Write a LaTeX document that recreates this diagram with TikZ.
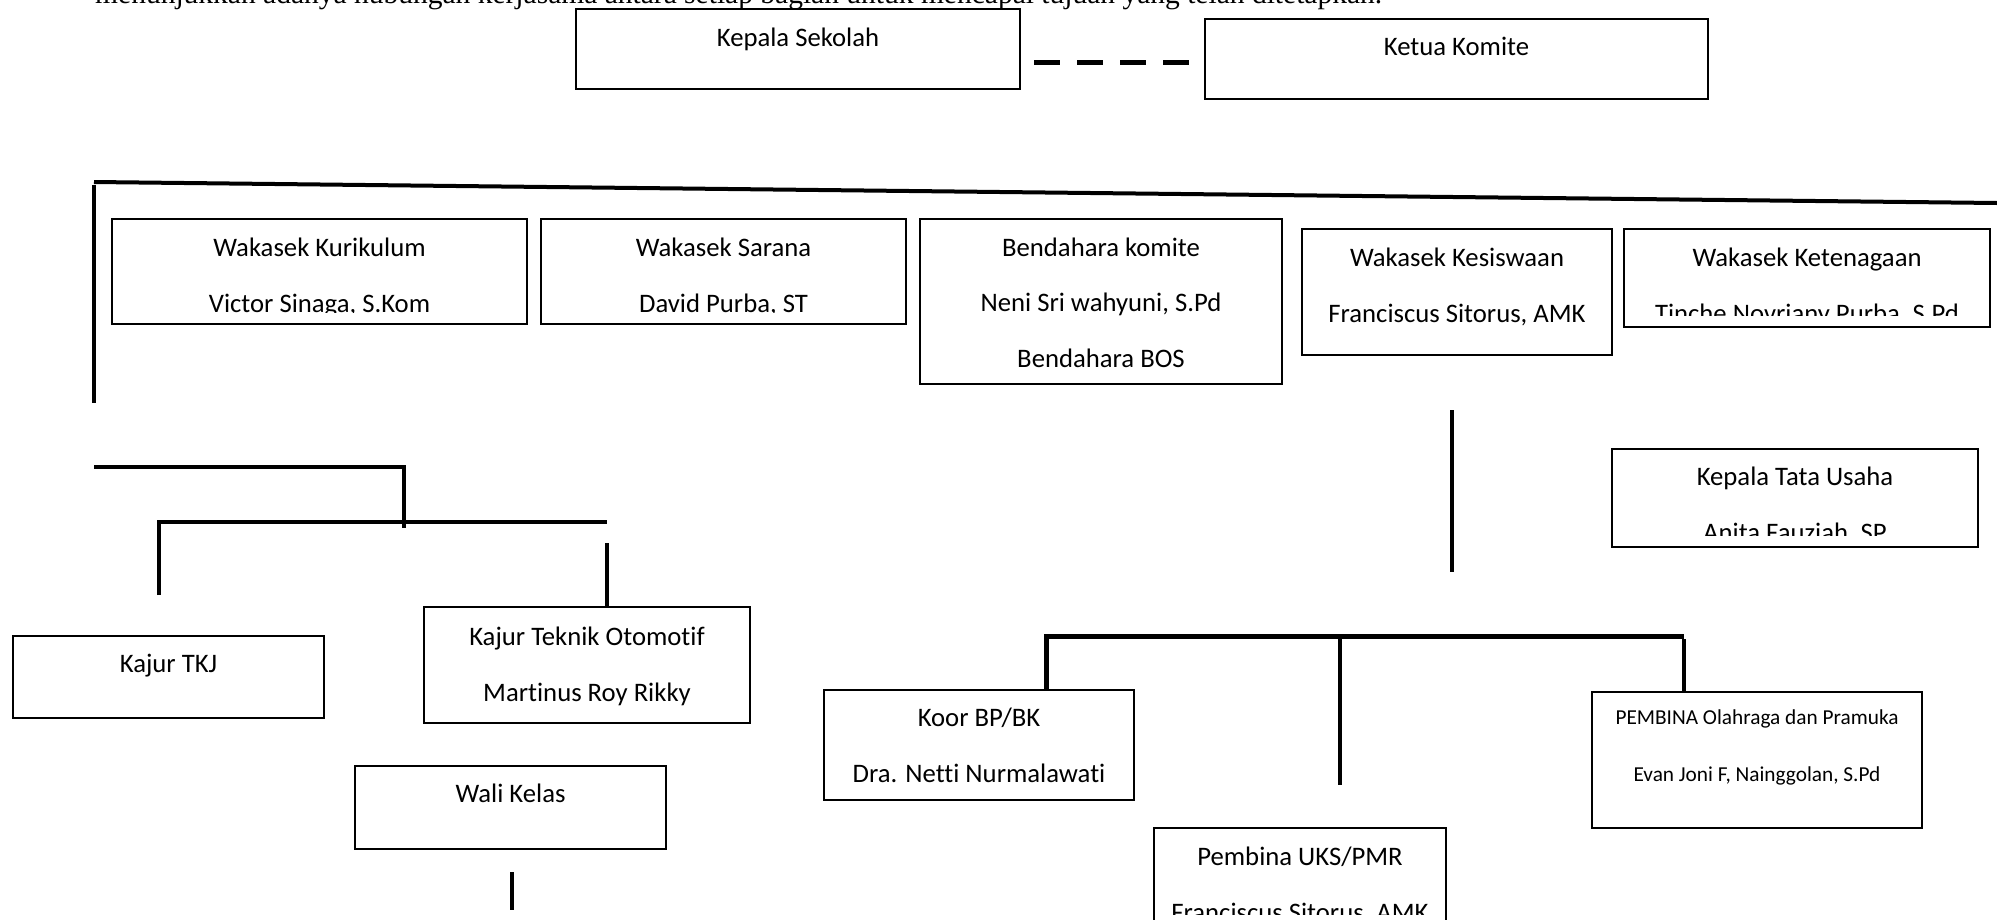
\documentclass[tikz,border=0pt]{standalone}
\usepackage{fontspec}
\setmainfont[Ligatures=NoCommon]{Carlito}
\newfontfamily\topserif{Liberation Serif}
\tikzset{
  box/.style={draw, line width=1.6pt, rectangle, inner sep=0pt, outer sep=0pt, anchor=north west},
  lbl/.style={anchor=base, inner sep=0pt, font=\fontsize{26.7}{30}\selectfont},
  slbl/.style={anchor=base, inner sep=0pt, font=\fontsize{21.3}{24}\selectfont},
  conn/.style={line width=4pt},
  dashconn/.style={line width=5pt, dash pattern=on 26pt off 17pt},
}
\begin{document}
\begin{tikzpicture}[x=1pt,y=-1pt]
\useasboundingbox (0,0) rectangle (1997,919);
\clip (0,0) rectangle (1997,919);

% clipped intro line of text
\node[anchor=base west, inner sep=0pt, font=\topserif\fontsize{29.5}{32}\selectfont] (intro) at (95,3)
  {menunjukkan adanya hubungan kerjasama antara setiap bagian untuk mencapai tujuan yang telah ditetapkan.};

% boxes
\node[box, minimum width=444pt, minimum height=80pt] (kep) at (576,9) {};
\node[box, minimum width=503pt, minimum height=80pt] (ket) at (1205,19) {};
\node[box, minimum width=415pt, minimum height=105pt] (kur) at (112,219) {};
\node[box, minimum width=365pt, minimum height=105pt] (sar) at (541,219) {};
\node[box, minimum width=362pt, minimum height=165pt] (ben) at (920,219) {};
\node[box, minimum width=310pt, minimum height=126pt] (kes) at (1302,229) {};
\node[box, minimum width=366pt, minimum height=98pt] (ten) at (1624,229) {};
\node[box, minimum width=366pt, minimum height=98pt] (tu) at (1612,449) {};
\node[box, minimum width=311pt, minimum height=82pt] (tkj) at (13,636) {};
\node[box, minimum width=326pt, minimum height=116pt] (oto) at (424,607) {};
\node[box, minimum width=311pt, minimum height=83pt] (wali) at (355,766) {};
\node[box, minimum width=310pt, minimum height=110pt] (koor) at (824,690) {};
\node[box, minimum width=330pt, minimum height=136pt] (pem) at (1592,692) {};
\node[box, minimum width=292pt, minimum height=98pt] (uks) at (1154,828) {};

% texts
\node[lbl] (kepT) at ([yshift=-37pt]kep.north) {Kepala Sekolah};
\node[lbl] (ketT) at ([yshift=-36pt]ket.north) {Ketua Komite};

\begin{scope}
\clip (kur.north west) rectangle ([yshift=12pt]kur.south east);
\node[lbl] (kurT1) at ([yshift=-37pt]kur.north) {Wakasek Kurikulum};
\node[lbl] (kurT2) at ([yshift=-93pt]kur.north) {Victor Sinaga, S.Kom};
\end{scope}
\begin{scope}
\clip (sar.north west) rectangle ([yshift=12pt]sar.south east);
\node[lbl] (sarT1) at ([yshift=-37pt]sar.north) {Wakasek Sarana};
\node[lbl] (sarT2) at ([yshift=-93pt]sar.north) {David Purba, ST};
\end{scope}
\node[lbl] (benT1) at ([yshift=-37pt]ben.north) {Bendahara komite};
\node[lbl] (benT2) at ([yshift=-92.5pt]ben.north) {Neni Sri wahyuni, S.Pd};
\node[lbl] (benT3) at ([yshift=-148pt]ben.north) {Bendahara BOS};
\node[lbl] (kesT1) at ([yshift=-37pt]kes.north) {Wakasek Kesiswaan};
\node[lbl] (kesT2) at ([yshift=-93pt]kes.north) {Franciscus Sitorus, AMK};
\begin{scope}
\clip (ten.north west) rectangle ([yshift=12pt]ten.south east);
\node[lbl] (tenT1) at ([yshift=-37pt]ten.north) {Wakasek Ketenagaan};
\node[lbl] (tenT2) at ([yshift=-93pt]ten.north) {Tinche Novriany Purba, S.Pd};
\end{scope}
\begin{scope}
\clip (tu.north west) rectangle ([yshift=12pt]tu.south east);
\node[lbl] (tuT1) at ([yshift=-36pt]tu.north) {Kepala Tata Usaha};
\node[lbl] (tuT2) at ([yshift=-92pt]tu.north) {Anita Fauziah, SP};
\end{scope}
\node[lbl] (tkjT) at ([yshift=-36pt]tkj.north) {Kajur TKJ};
\node[lbl] (otoT1) at ([yshift=-38pt]oto.north) {Kajur Teknik Otomotif};
\node[lbl] (otoT2) at ([yshift=-94pt]oto.north) {Martinus Roy Rikky};
\node[lbl] (waliT) at ([yshift=-36pt]wali.north) {Wali Kelas};
\node[lbl] (koorT1) at ([yshift=-36pt]koor.north) {Koor BP/BK};
\node[lbl] (koorT2) at ([yshift=-92pt]koor.north) {Dra. Netti Nurmalawati};
\node[slbl] (pemT1) at ([yshift=-32pt]pem.north) {PEMBINA Olahraga dan Pramuka};
\node[slbl] (pemT2) at ([yshift=-89pt]pem.north) {Evan Joni F, Nainggolan, S.Pd};
\begin{scope}
\clip (uks.north west) rectangle ([yshift=12pt]uks.south east);
\node[lbl] (uksT1) at ([yshift=-37pt]uks.north) {Pembina UKS/PMR};
\node[lbl] (uksT2) at ([yshift=-93pt]uks.north) {Franciscus Sitorus, AMK};
\end{scope}

% connectors
\coordinate (d1) at (1034,62);
\draw[dashconn] (d1) -- (ket.west |- d1);

\coordinate (topL) at (94,182);
\coordinate (topR) at (1997,203);
\draw[conn] (topL) -- (topR);
\coordinate (vL1) at (94,185);
\coordinate (vL2) at (94,403);
\draw[conn] (vL1) -- (vL2);

\coordinate (h1a) at (94,467);
\coordinate (h1b) at (404,528);
\draw[conn] (h1a) -| (h1b);
\coordinate (h2a) at (159,595);
\coordinate (h2b) at (607,522);
\draw[conn] (h2a) |- (h2b);
\coordinate (o1) at (607,543);
\draw[conn] (o1) -- (o1 |- oto.north);

\coordinate (k1) at (1452,410);
\coordinate (k2) at (1452,572);
\draw[conn] (k1) -- (k2);

\coordinate (l1) at (1046,690);
\coordinate (r1) at (1684,636);
\draw[line width=5pt] (l1) |- (r1);
\coordinate (m1) at (1340,639);
\coordinate (m2) at (1340,785);
\draw[conn] (m1) -- (m2);
\coordinate (p1) at (1684,639);
\draw[conn] (p1) -- (p1 |- pem.north);

\coordinate (w1) at (512,872);
\coordinate (w2) at (512,910);
\draw[conn] (w1) -- (w2);
\end{tikzpicture}
\end{document}
